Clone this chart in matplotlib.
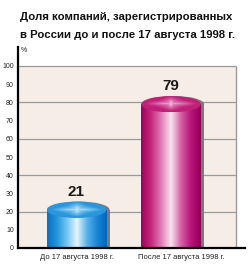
import numpy as np
import matplotlib
matplotlib.use("Agg")
import matplotlib.pyplot as plt
from matplotlib.patches import Ellipse, Rectangle
from matplotlib.colors import LinearSegmentedColormap
import matplotlib.transforms as mtransforms

plt.rcParams['font.family'] = ['Liberation Sans', 'DejaVu Sans']

title_lines = ["Доля компаний, зарегистрированных",
               "в России до и после 17 августа 1998 г."]
categories = ["До 17 августа 1998 г.", "После 17 августа 1998 г."]
values = [21, 79]
yticks = [0, 10, 20, 30, 40, 50, 60, 70, 80, 90, 100]
unit_label = "%"

body_colors = [
    ["#0a70c0", "#2496dc", "#76c4f2", "#e6f5ff", "#5ab2ea", "#1a86d6", "#0664b4"],
    ["#a0005a", "#c6287c", "#e07ab4", "#f8e2ef", "#d462a6", "#b81478", "#900058"],
]
top_colors = [
    ["#f2faff", "#7cc6f2", "#2a96dc"],
    ["#fbe6f2", "#dc6eae", "#c02078"],
]
shadow_color = "#7a7a7a"
bg_color = "#f6ede6"
grid_color = "#9a9a9a"

W, H = 249, 266
fig = plt.figure(figsize=(W / 100, H / 100), dpi=100)
fig.patch.set_facecolor("white")

left_px, right_px, bottom_px, top_px = 18, 245, 248, 47
ax = fig.add_axes([left_px / W, 1 - bottom_px / H,
                   (right_px - left_px) / W, (bottom_px - top_px) / H])
ax.set_facecolor("none")

x = np.arange(len(values))
px_per_unit = 94.5
xmin = -(76.5 - left_px) / px_per_unit
xmax = xmin + (right_px - left_px) / px_per_unit
xborder = (236 - 76.5) / px_per_unit
ymax = (bottom_px - top_px) / 1.82
width = 0.63
ell_h = 9.0

# background panel
ax.add_patch(Rectangle((xmin, 0), xborder - xmin, 100, facecolor=bg_color,
                       edgecolor="none", zorder=0))
ax.hlines([20, 40, 60, 80, 100], xmin, xborder, color=grid_color, lw=0.9, zorder=1)
ax.vlines([xborder], 0, 100, color=grid_color, lw=1.0, zorder=1)

for i, (xi, v) in enumerate(zip(x, values)):
    x0 = xi - width / 2
    # shadow
    sh = 0.035
    ax.add_patch(Rectangle((x0 + sh, 0), width, v, facecolor=shadow_color,
                           edgecolor="none", zorder=2))
    ax.add_patch(Ellipse((xi + sh, v), width, ell_h, facecolor=shadow_color,
                         edgecolor="none", zorder=2))
    # body
    bars = ax.bar([xi], [v], width=width, color="none", edgecolor="none", zorder=3)
    rect = bars.patches[0]
    cmap = LinearSegmentedColormap.from_list("b%d" % i, body_colors[i])
    grad = np.linspace(0, 1, 256).reshape(1, -1)
    im = ax.imshow(grad, cmap=cmap, extent=[x0, x0 + width, 0, v],
                   aspect="auto", zorder=3, interpolation="bilinear")
    im.set_clip_path(rect)
    # top ellipse
    ell = Ellipse((xi, v), width, ell_h, facecolor="none", edgecolor="none", zorder=4)
    ax.add_patch(ell)
    gx = np.linspace(-1, 1, 200)
    gy = np.linspace(-1, 1, 60)
    XX, YY = np.meshgrid(gx, gy)
    ang = np.abs(np.arctan2(YY, XX))
    rr = np.sqrt(XX ** 2 + YY ** 2)
    star = np.clip(rr * 1.1 + 0.3 * np.abs(np.sin(2 * ang)), 0, 1)
    tcmap = LinearSegmentedColormap.from_list("t%d" % i, top_colors[i])
    im2 = ax.imshow(star, cmap=tcmap, vmin=0, vmax=1,
                    extent=[x0, x0 + width, v - ell_h / 2, v + ell_h / 2],
                    aspect="auto", zorder=4, interpolation="bilinear")
    im2.set_clip_path(ell)
    ax.text(xi, v + 10, str(v), ha="center", va="center",
            fontsize=11, fontweight="bold", color="#1a1a1a", zorder=5)

ax.set_xlim(xmin, xmax)
ax.set_ylim(0, ymax)

for s in ["top", "right"]:
    ax.spines[s].set_visible(False)
ax.spines["left"].set_color("black")
ax.spines["left"].set_linewidth(1.6)
ax.spines["bottom"].set_color("black")
ax.spines["bottom"].set_linewidth(1.6)
ax.spines["left"].set_zorder(6)
ax.spines["bottom"].set_zorder(6)

ax.set_yticks(yticks)
ax.set_yticklabels([str(t) for t in yticks], fontsize=5, color="#222222")
ax.tick_params(axis="y", length=0, pad=3)
ax.set_xticks(x)
ax.set_xticklabels(categories, fontsize=5.5, color="#222222")
ax.tick_params(axis="x", length=0, pad=4)
# shift second category label slightly right, as in the reference
offs = mtransforms.ScaledTranslation(10 / 100, 0, fig.dpi_scale_trans)
lbls = ax.get_xticklabels()
lbls[1].set_transform(lbls[1].get_transform() + offs)

ax.text(0.012, (248 - 50) / 1.82, unit_label,
        transform=mtransforms.blended_transform_factory(ax.transAxes, ax.transData),
        fontsize=5, ha="left", va="center", color="#222222")

fig.text(20 / W, 1 - 20 / H, title_lines[0], fontsize=8.2, fontweight="bold",
         ha="left", va="baseline", color="#111111")
fig.text(20 / W, 1 - 38 / H, title_lines[1], fontsize=8.2, fontweight="bold",
         ha="left", va="baseline", color="#111111")

fig.savefig("out.png", dpi=100)
